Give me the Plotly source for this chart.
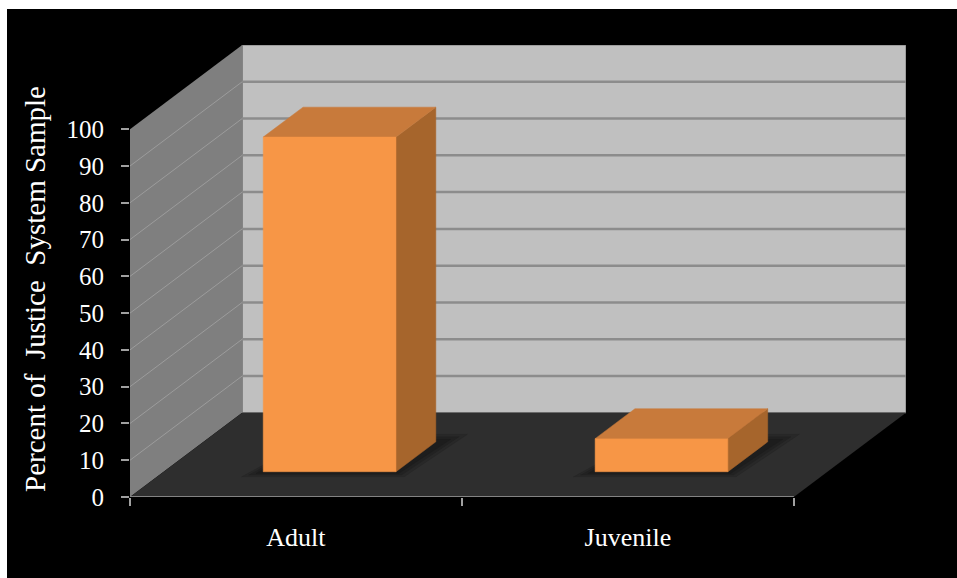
import plotly.graph_objects as go

# ---- data ----
categories = ["Adult", "Juvenile"]
percent = [91, 9]
y_ticks = list(range(0, 101, 10))
y_title = "Percent of\u00a0\u00a0Justice\u00a0\u00a0System Sample"

# ---- oblique 3-D frame (x in category units, y in percent units) ----
DEPTH_X = 0.338      # floor depth, horizontal component
DEPTH_Y = 22.9       # floor depth, vertical component
BAR_W = 0.4          # bar width as a fraction of a category slot
D_FRONT, D_BACK = 0.30, 0.655   # depth band occupied by the bars
Y_MAX = 100

W, H = 957, 578
M = dict(l=130, r=51, t=45, b=81)
n = len(categories)
x0, x1 = -0.5, n - 0.5

ORANGE_FRONT = "#F79646"
ORANGE_TOP = "#C87A3B"
ORANGE_SIDE = "#A6652C"
SERIF = "Liberation Serif"


def proj(x, y, d):
    """Project a point at depth d (0 = front, 1 = back wall)."""
    return x + d * DEPTH_X, y + d * DEPTH_Y


def path(points):
    return "M " + " L ".join(f"{px},{py}" for px, py in points) + " Z"


# paper coordinates of the figure edges (for the black panel)
pw = W - M["l"] - M["r"]
ph = H - M["t"] - M["b"]
def paper_x(px):
    return (px - M["l"]) / pw
def paper_y(py):
    return (H - M["b"] - py) / ph

shapes = []
# black panel with a thin white page edge at top/left
shapes.append(dict(type="rect", xref="paper", yref="paper", layer="below",
                   x0=paper_x(7), x1=paper_x(W), y0=paper_y(H), y1=paper_y(9),
                   fillcolor="black", line=dict(width=0)))

# back wall
bw = [proj(x0, 0, 1), proj(x1, 0, 1), proj(x1, Y_MAX, 1), proj(x0, Y_MAX, 1)]
shapes.append(dict(type="path", path=path(bw), layer="below",
                   fillcolor="#C0C0C0", line=dict(color="#7A7A7A", width=1)))
# left side wall
lw = [proj(x0, 0, 0), proj(x0, 0, 1), proj(x0, Y_MAX, 1), proj(x0, Y_MAX, 0)]
shapes.append(dict(type="path", path=path(lw), layer="below",
                   fillcolor="#7F7F7F", line=dict(width=0)))
# floor
fl = [proj(x0, 0, 0), proj(x1, 0, 0), proj(x1, 0, 1), proj(x0, 0, 1)]
shapes.append(dict(type="path", path=path(fl), layer="below",
                   fillcolor="#2E2E2E", line=dict(width=0)))

# gridlines on back and side walls
for v in y_ticks[1:-1]:
    ax, ay = proj(x0, v, 1)
    bx, by = proj(x1, v, 1)
    shapes.append(dict(type="line", layer="below", x0=ax, y0=ay, x1=bx, y1=by,
                       line=dict(color="#8C8C8C", width=2.5)))
    fx, fy = proj(x0, v, 0)
    shapes.append(dict(type="line", layer="below", x0=fx, y0=fy, x1=ax, y1=ay,
                       line=dict(color="#9C9C9C", width=1)))

# front floor edge (category axis line)
shapes.append(dict(type="line", layer="below", x0=x0, y0=0, x1=x1, y1=0,
                   line=dict(color="#A0A0A0", width=1.5)))

fig = go.Figure()


def add_face(pts, col):
    xs = [p[0] for p in pts] + [pts[0][0]]
    ys = [p[1] for p in pts] + [pts[0][1]]
    fig.add_trace(go.Scatter(x=xs, y=ys, mode="lines", fill="toself",
                             fillcolor=col, line=dict(width=0.5, color=col),
                             hoverinfo="skip", showlegend=False))


# bars: soft floor shadow, then side, top and front faces
for i, v in enumerate(percent):
    l, r = i - BAR_W / 2, i + BAR_W / 2
    for k in (3, 2, 1):
        g = 0.015 * k
        add_face([proj(l - g, 0, D_FRONT - 0.02 * k), proj(r + g, 0, D_FRONT - 0.02 * k),
                  proj(r + g + 0.02, 0, D_BACK + 0.03 * k), proj(l + 0.02, 0, D_BACK + 0.03 * k)],
                 "rgba(0,0,0,0.13)")
    side = [proj(r, 0, D_FRONT), proj(r, 0, D_BACK),
            proj(r, v, D_BACK), proj(r, v, D_FRONT)]
    top = [proj(l, v, D_FRONT), proj(r, v, D_FRONT),
           proj(r, v, D_BACK), proj(l, v, D_BACK)]
    front = [proj(l, 0, D_FRONT), proj(r, 0, D_FRONT),
             proj(r, v, D_FRONT), proj(l, v, D_FRONT)]
    add_face(side, ORANGE_SIDE)
    add_face(top, ORANGE_TOP)
    add_face(front, ORANGE_FRONT)

fig.update_layout(
    width=W, height=H, margin=M,
    paper_bgcolor="white", plot_bgcolor="rgba(0,0,0,0)",
    shapes=shapes, showlegend=False,
    xaxis=dict(range=[x0, x1 + DEPTH_X], showgrid=False, zeroline=False,
               showline=False, tickvals=list(range(n)), ticktext=categories,
               ticks="", tickfont=dict(family=SERIF, size=26, color="white"),
               ticklabelstandoff=22,
               minor=dict(tickvals=[k - 0.5 for k in range(n + 1)],
                          ticks="outside", ticklen=8, tickwidth=1.5,
                          tickcolor="#A0A0A0", showgrid=False)),
    yaxis=dict(range=[0, Y_MAX + DEPTH_Y], showgrid=False, zeroline=False,
               showline=False, tickvals=y_ticks, ticks="outside", ticklen=8,
               tickwidth=1.5, tickcolor="#A0A0A0",
               tickfont=dict(family=SERIF, size=25, color="white"),
               ticklabelstandoff=12),
    annotations=[dict(text=y_title, xref="paper", yref="paper",
                      x=paper_x(35), y=paper_y(289), textangle=-90,
                      showarrow=False, xanchor="center", yanchor="middle",
                      font=dict(family=SERIF, size=29, color="white"))],
)

fig.write_html("out.html")
